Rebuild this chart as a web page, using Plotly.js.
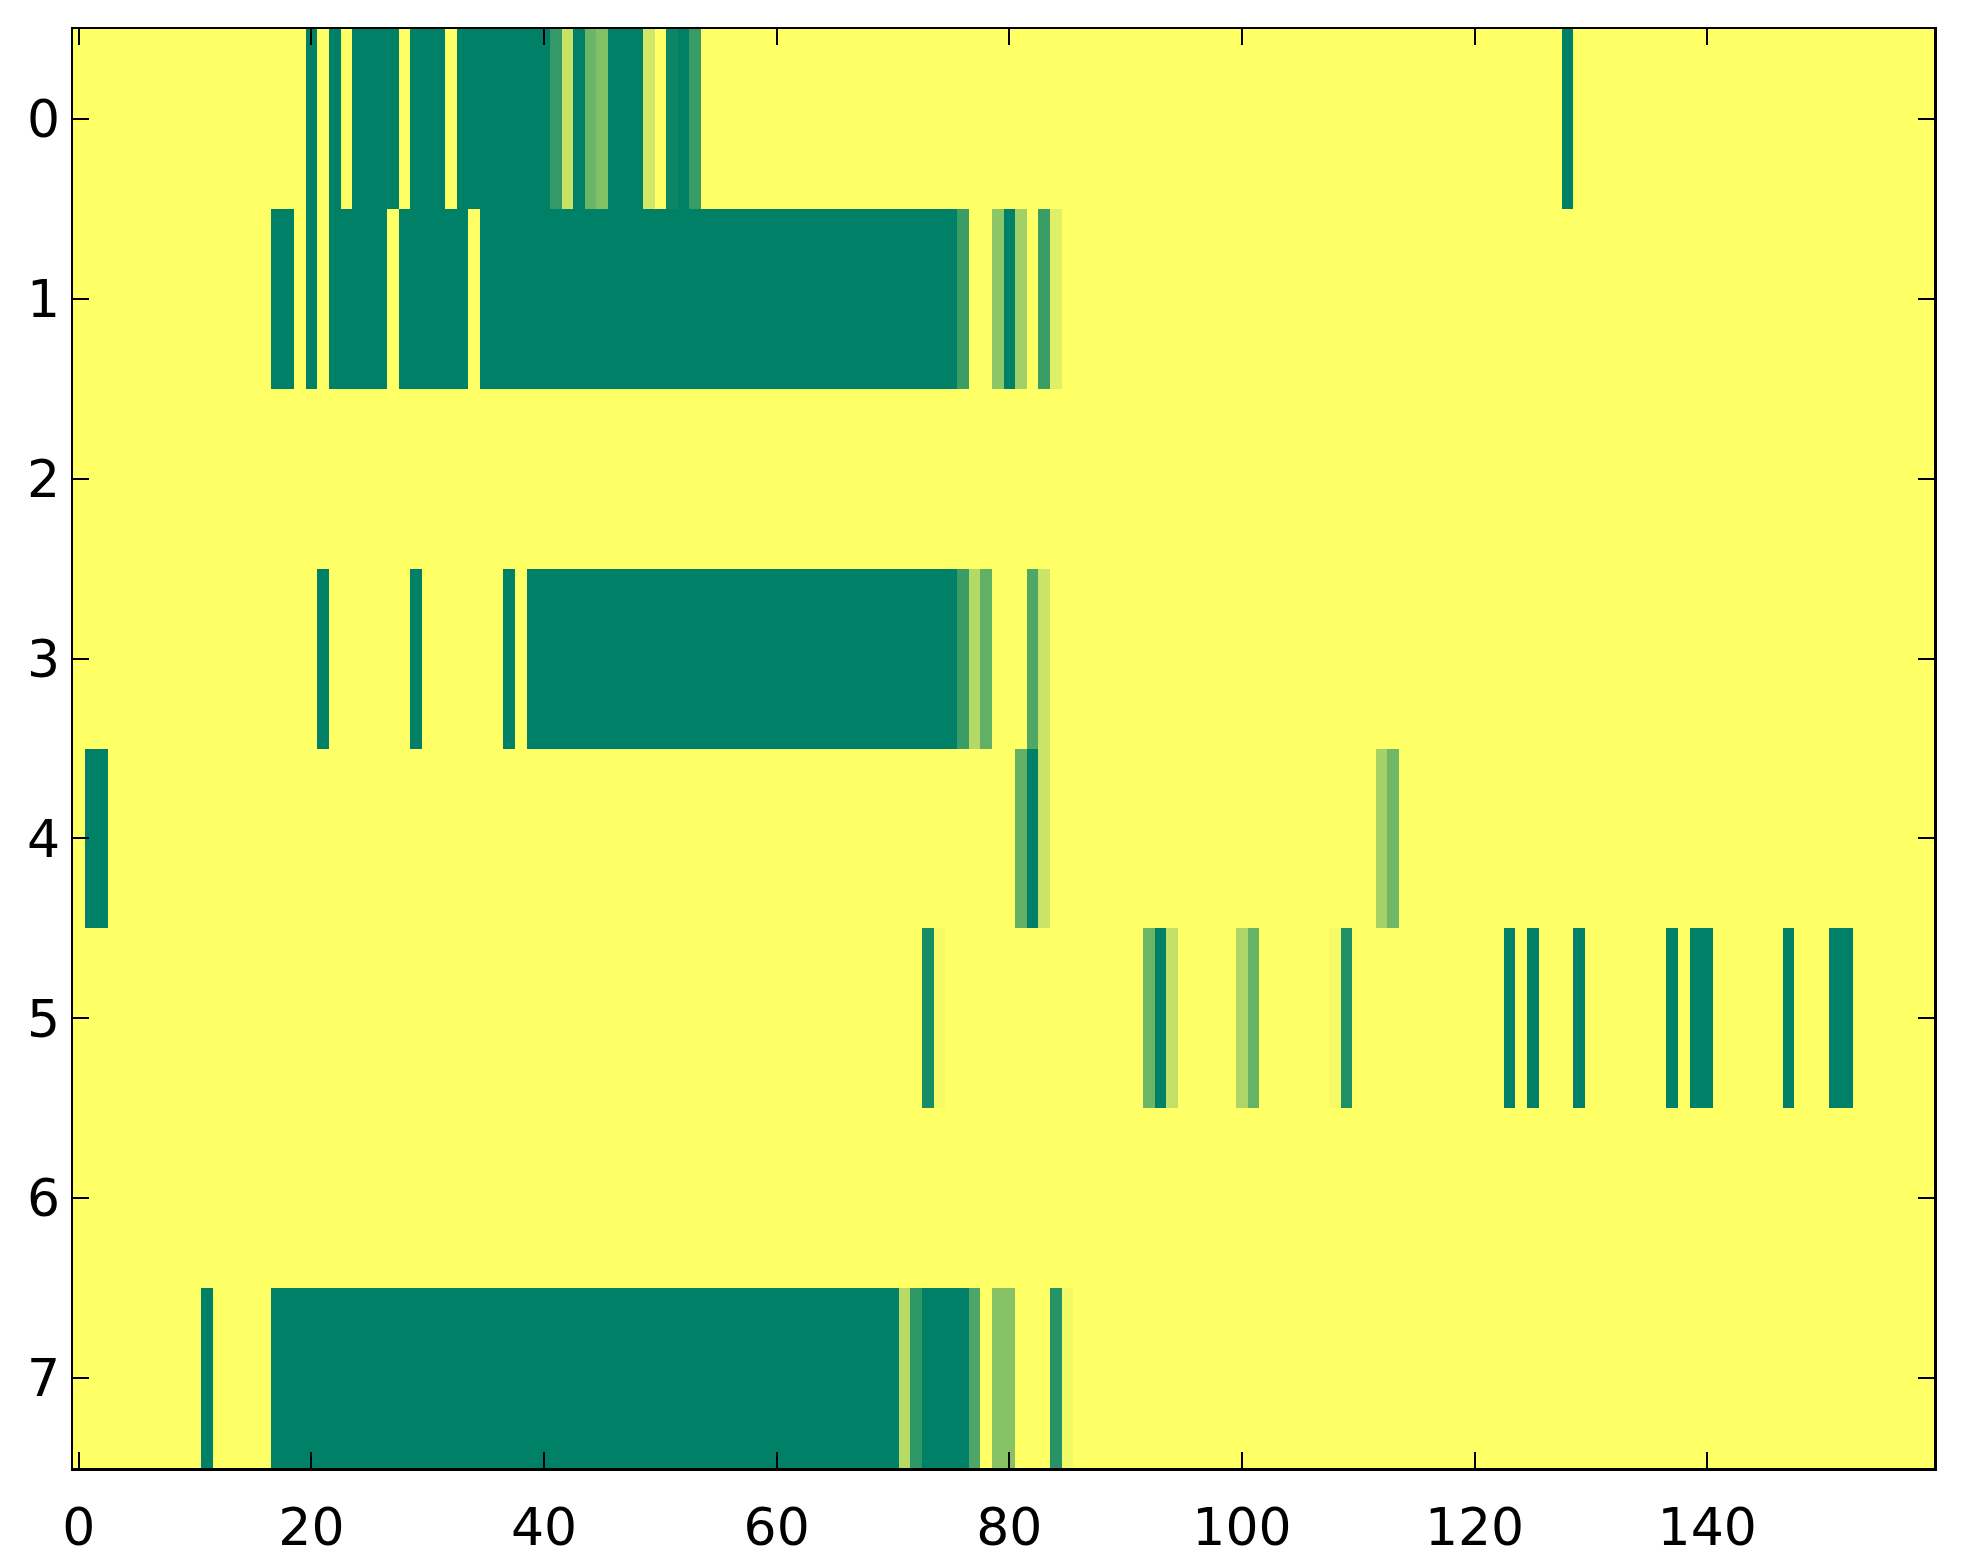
<!DOCTYPE html>
<html>
<head>
<meta charset="utf-8">
<script src="https://cdn.plot.ly/plotly-3.0.1.min.js"></script>
<style>
  html, body { margin: 0; padding: 0; background: #ffffff; }
  #chart { width: 1963px; height: 1564px; }
</style>
</head>
<body>
<div id="chart"></div>
<script>
// ---- data: per-row runs of non-zero cells [firstColumn, lastColumn, value] ----
const nColumns = 160;
const rowLabels = ["0", "1", "2", "3", "4", "5", "6", "7"];
const xTickValues = [0, 20, 40, 60, 80, 100, 120, 140];

const row0 = [[20,20,1],[22,22,1],[24,27,1],[29,31,1],[33,40,1],[41,41,0.8],[42,42,0.22],
              [43,43,1],[44,44,0.58],[45,45,0.49],[46,48,1],[49,49,0.18],[51,51,0.95],
              [52,52,1],[53,53,0.78],[128,128,1]];
const row1 = [[17,18,1],[20,20,1],[22,26,1],[28,33,1],[35,75,1],[76,76,0.77],[79,79,0.45],
              [80,80,1],[81,81,0.37],[83,83,0.77],[84,84,0.12]];
const row2 = [];
const row3 = [[21,21,1],[29,29,1],[37,37,1],[39,75,1],[76,76,0.77],[77,77,0.3],[78,78,0.62],
              [82,82,0.69],[83,83,0.21]];
const row4 = [[1,2,1],[81,81,0.62],[82,82,1],[83,83,0.21],[112,112,0.36],[113,113,0.56]];
const row5 = [[73,73,0.9],[74,74,0.04],[92,92,0.58],[93,93,1],[94,94,0.24],[100,100,0.32],
              [101,101,0.6],[108,108,0.04],[109,109,0.88],[123,123,1],[125,125,1],[129,129,1],
              [137,137,1],[139,140,1],[147,147,1],[151,152,1]];
const row6 = [];
const row7 = [[11,11,1],[17,70,1],[71,71,0.28],[72,72,0.82],[73,76,1],[77,77,0.7],
              [79,80,0.47],[84,84,0.85],[85,85,0.05]];

// ---- build the matrix the library needs ----
const rows = [row0, row1, row2, row3, row4, row5, row6, row7];
const z = rows.map(function (runs) {
  const line = new Array(nColumns).fill(0);
  runs.forEach(function (r) {
    for (let c = r[0]; c <= r[1]; c++) line[c] = r[2];
  });
  return line;
});
const xIdx = Array.from({length: nColumns}, (_, i) => i);
const yIdx = rowLabels.map((_, i) => i);

const tickFont = { family: "DejaVu Sans", size: 52, color: "#000000" };

const trace = {
  type: "heatmap",
  z: z,
  x: xIdx,
  y: yIdx,
  zmin: 0,
  zmax: 1,
  colorscale: [[0, "rgb(255,255,102)"], [1, "rgb(0,128,102)"]],
  showscale: false,
  zsmooth: false,
  hoverinfo: "skip"
};

const layout = {
  width: 1963,
  height: 1564,
  margin: { l: 73, r: 29, t: 29, b: 96, pad: 0 },
  paper_bgcolor: "#ffffff",
  plot_bgcolor: "#ffffff",
  showlegend: false,
  xaxis: {
    range: [-0.5, nColumns - 0.5],
    tickmode: "array",
    tickvals: xTickValues,
    ticktext: xTickValues.map(String),
    ticks: "inside",
    ticklen: 16,
    tickwidth: 2,
    tickcolor: "#000000",
    showline: true,
    linecolor: "#000000",
    linewidth: 2.5,
    mirror: "ticks",
    showgrid: false,
    zeroline: false,
    tickfont: tickFont,
    ticklabelstandoff: 12
  },
  yaxis: {
    range: [rowLabels.length - 0.5, -0.5],
    tickmode: "array",
    tickvals: yIdx,
    ticktext: rowLabels,
    ticks: "inside",
    ticklen: 16,
    tickwidth: 2,
    tickcolor: "#000000",
    showline: true,
    linecolor: "#000000",
    linewidth: 2.5,
    mirror: "ticks",
    showgrid: false,
    zeroline: false,
    tickfont: tickFont,
    ticklabelstandoff: 0
  }
};

Plotly.newPlot("chart", [trace], layout, { staticPlot: true, displayModeBar: false });
</script>
</body>
</html>
